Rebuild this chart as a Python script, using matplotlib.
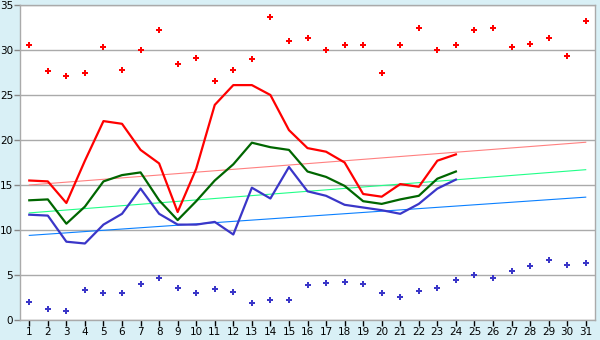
import numpy as np
import matplotlib
matplotlib.use('Agg')
from matplotlib import pyplot as plt

# days of the month
days = list(range(1, 32))

# daily extremes (points) for the whole month
max_pts = [30.6, 27.7, 27.1, 27.5, 30.3, 27.8, 30.0, 32.2, 28.4, 29.1,
           26.6, 27.8, 29.0, 33.7, 31.0, 31.3, 30.0, 30.6, 30.6, 27.5,
           30.6, 32.5, 30.0, 30.6, 32.2, 32.4, 30.3, 30.7, 31.3, 29.3, 33.2]
min_pts = [2.0, 1.2, 1.0, 3.3, 3.0, 3.0, 4.0, 4.7, 3.6, 3.0,
           3.4, 3.1, 1.85, 2.2, 2.2, 3.85, 4.1, 4.2, 4.0, 3.0,
           2.6, 3.2, 3.6, 4.4, 5.0, 4.7, 5.5, 6.0, 6.7, 6.1, 6.3]

# measured series, days 1..24
hi_line = [15.5, 15.4, 13.0, 17.7, 22.1, 21.8, 18.9, 17.4, 12.0, 16.8,
           23.9, 26.1, 26.1, 25.0, 21.1, 19.1, 18.7, 17.5, 14.0, 13.7,
           15.1, 14.8, 17.7, 18.4]
mid_line = [13.3, 13.4, 10.7, 12.6, 15.4, 16.1, 16.4, 13.3, 11.1, 13.2,
            15.5, 17.3, 19.7, 19.2, 18.9, 16.5, 15.9, 14.9, 13.2, 12.9,
            13.4, 13.8, 15.7, 16.5]
lo_line = [11.7, 11.6, 8.7, 8.5, 10.6, 11.8, 14.6, 11.8, 10.6, 10.6,
           10.9, 9.5, 14.7, 13.5, 17.0, 14.3, 13.8, 12.8, 12.5, 12.2,
           11.8, 12.9, 14.6, 15.6]

# long-term trend lines, value on day 1 and day 31
trend_days = [1, 31]
hi_trend = [15.0, 19.75]
mid_trend = [11.9, 16.7]
lo_trend = [9.4, 13.65]

fig = plt.figure(figsize=(6, 3.4), dpi=100)
fig.patch.set_facecolor('#d9f0f6')
ax = fig.add_axes([20 / 600, 1 - 320 / 340, 575 / 600, 315 / 340])
ax.set_facecolor('white')

ax.plot(trend_days, hi_trend, color='#ff8080', lw=0.8)
ax.plot(trend_days, mid_trend, color='#20ff88', lw=0.8)
ax.plot(trend_days, lo_trend, color='#0a80ff', lw=0.8)

ax.plot(days[:24], hi_line, color='#ff0000', lw=1.6)
ax.plot(days[:24], mid_line, color='#006600', lw=1.6)
ax.plot(days[:24], lo_line, color='#3a36c8', lw=1.6)

ax.plot(days, max_pts, ls='none', marker='P', ms=5, color='#ff0000', mew=0)
ax.plot(days, min_pts, ls='none', marker='P', ms=5, color='#3a36c8', mew=0)

ax.set_xlim(0.5, 31.5)
ax.set_ylim(0, 35)
ax.set_xticks(days)
ax.set_yticks(range(0, 36, 5))
ax.yaxis.grid(True, color='#aaaaaa', lw=1)
ax.set_axisbelow(True)
for side in ['left', 'right', 'top', 'bottom']:
    ax.spines[side].set_color('#aaaaaa')
    ax.spines[side].set_linewidth(1)
ax.tick_params(axis='x', direction='out', length=4, width=1, color='black',
               labelsize=7.5, pad=1)
ax.tick_params(axis='y', direction='out', length=4, width=1, color='#888888',
               labelsize=7.5, pad=1)

fig.savefig('out.png', dpi=100, facecolor=fig.get_facecolor())
